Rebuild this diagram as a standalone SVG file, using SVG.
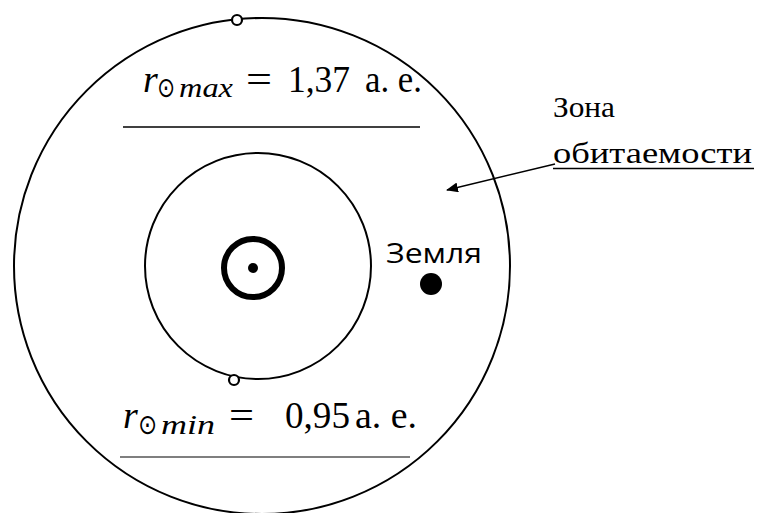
<svg xmlns="http://www.w3.org/2000/svg" width="760" height="513" viewBox="0 0 760 513">
<defs>
<style>
.orb{fill:none;stroke:#000;stroke-width:2}
.pt{fill:#fff;stroke:#000;stroke-width:2.2}
.serif{font-family:"Liberation Serif","DejaVu Serif",serif;fill:#000}
.it{font-style:italic}
.sym{font-family:"DejaVu Sans",sans-serif;fill:#000}
.sans{font-family:"Open Sans","Liberation Sans",sans-serif;fill:#000}
.rule{stroke:#000;stroke-width:1.3}
</style>
<marker id="ah" markerWidth="12" markerHeight="10" refX="11" refY="5" orient="auto" markerUnits="userSpaceOnUse">
<path d="M0,0 L12,5 L0,10 Z" fill="#000"/>
</marker>
</defs>
<rect width="760" height="513" fill="#fff"/>
<g id="outer-orbit">
<circle class="orb" cx="262" cy="266" r="248"/>
<circle class="pt" cx="237" cy="20" r="5"/>
</g>
<g id="inner-orbit">
<circle class="orb" cx="258" cy="266" r="113"/>
<circle class="pt" cx="234" cy="380" r="5"/>
</g>
<g id="sun">
<circle cx="253" cy="268" r="29" fill="none" stroke="#000" stroke-width="6"/>
<circle cx="253" cy="268" r="5" fill="#000"/>
</g>
<g id="earth">
<circle cx="431" cy="284" r="11" fill="#000"/>
<text class="sans" x="386" y="263" font-size="28" textLength="96" lengthAdjust="spacingAndGlyphs">Земля</text>
</g>
<g id="rmax">
<text class="serif it" x="143" y="92" font-size="38">r</text>
<text class="sym" x="157" y="97" font-size="28" textLength="18" lengthAdjust="spacingAndGlyphs">⊙</text>
<text class="serif it" x="179" y="97" font-size="28" textLength="54" lengthAdjust="spacingAndGlyphs">max</text>
<text class="serif" x="246" y="92" font-size="38" textLength="26" lengthAdjust="spacingAndGlyphs">=</text>
<text class="serif" x="288" y="92" font-size="38" textLength="62" lengthAdjust="spacingAndGlyphs">1,37</text>
<text class="serif" x="365" y="92" font-size="38" textLength="57" lengthAdjust="spacingAndGlyphs">а. е.</text>
<line class="rule" x1="123" y1="127" x2="420" y2="127"/>
</g>
<g id="rmin">
<text class="serif it" x="123" y="428" font-size="38">r</text>
<text class="sym" x="138" y="434" font-size="28" textLength="19" lengthAdjust="spacingAndGlyphs">⊙</text>
<text class="serif it" x="161" y="434" font-size="28" textLength="54" lengthAdjust="spacingAndGlyphs">min</text>
<text class="serif" x="229" y="428" font-size="38" textLength="25" lengthAdjust="spacingAndGlyphs">=</text>
<text class="serif" x="285" y="428" font-size="38" textLength="65" lengthAdjust="spacingAndGlyphs">0,95</text>
<text class="serif" x="355" y="428" font-size="38" textLength="62" lengthAdjust="spacingAndGlyphs">а. е.</text>
<line x1="120" y1="457" x2="410" y2="457" stroke="#555" stroke-width="1.6"/>
</g>
<g id="zone-label">
<text class="serif" x="553" y="117" font-size="30" textLength="62" lengthAdjust="spacingAndGlyphs">Зона</text>
<text class="serif" x="553" y="163" font-size="30" textLength="199" lengthAdjust="spacingAndGlyphs">обитаемости</text>
<line x1="553" y1="168.5" x2="754" y2="168.5" stroke="#000" stroke-width="1.5"/>
</g>
<g id="connectors">
<line x1="555" y1="164" x2="447" y2="190" stroke="#000" stroke-width="1.5" marker-end="url(#ah)"/>
</g>
</svg>
